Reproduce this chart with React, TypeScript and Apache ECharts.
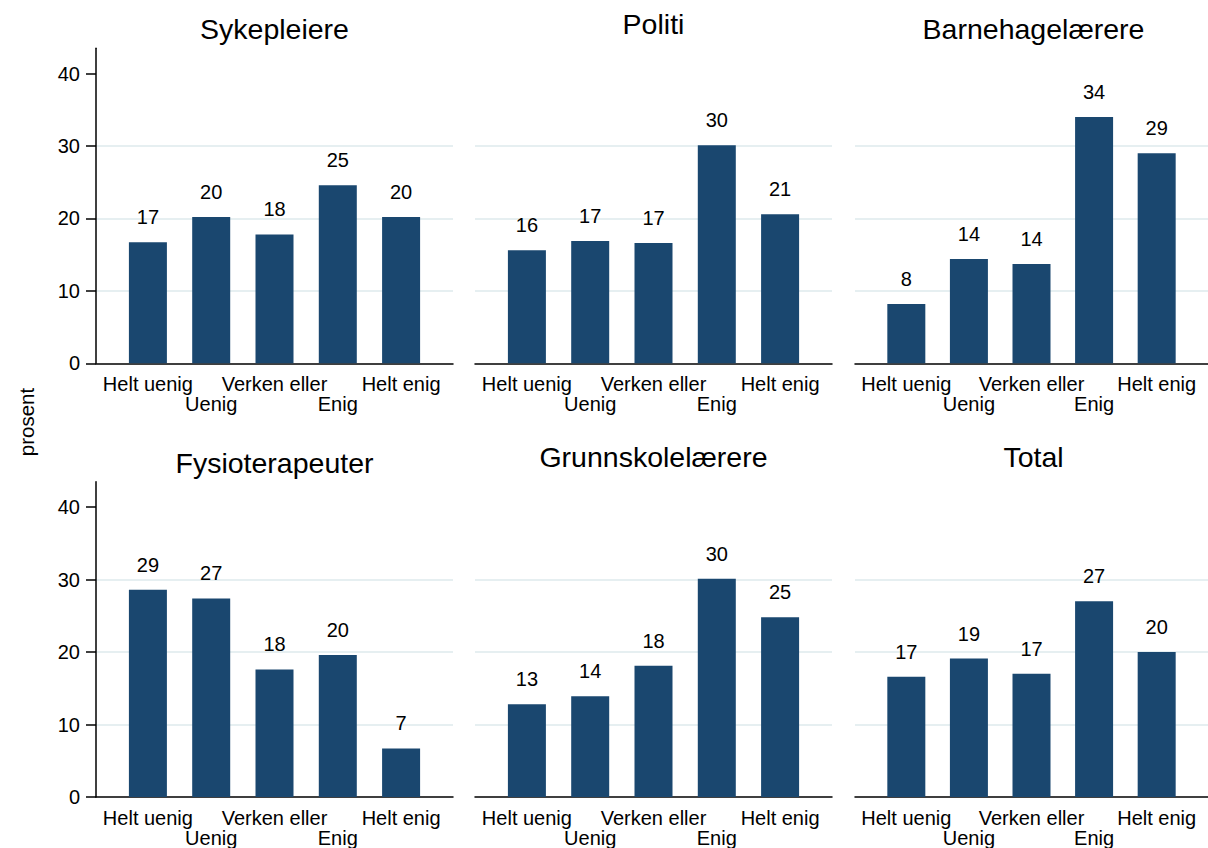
import React, { useEffect, useRef } from "react";
import * as echarts from "echarts";

const categories = ["Helt uenig", "Uenig", "Verken eller", "Enig", "Helt enig"];
const panelTitles = ["Sykepleiere", "Politi", "Barnehagelærere", "Fysioterapeuter", "Grunnskolelærere", "Total"];
const sykepleiere = [16.7, 20.2, 17.8, 24.6, 20.2];
const politi = [15.6, 16.9, 16.6, 30.1, 20.6];
const barnehagelaerere = [8.2, 14.4, 13.7, 34.0, 29.0];
const fysioterapeuter = [28.6, 27.4, 17.6, 19.6, 6.7];
const grunnskolelaerere = [12.8, 13.9, 18.1, 30.1, 24.8];
const total = [16.6, 19.1, 17.0, 27.0, 20.0];
const yTicks = [0, 10, 20, 30, 40];
const firstLineLabels = [0, 2, 4];
const secondLineLabels = [1, 3];
const yLabel = "prosent";

const panelValues = [sykepleiere, politi, barnehagelaerere, fysioterapeuter, grunnskolelaerere, total];

const FONT = "'Liberation Sans', Arial, Helvetica, sans-serif";
const BAR = "#1a476f";
const GRID = "#e6eff1";

const colLeft = [96, 475, 855];
const colWidth = 357;
const rowTop = [48.3, 481.7];
const rowHeight = [315, 315.6];
const titleTop = [14, 9, 14, 448, 442, 442];

export default function App() {
  const ref = useRef<HTMLDivElement>(null);
  useEffect(() => {
    if (!ref.current) return;
    const chart = echarts.init(ref.current, null, { renderer: "svg" });
    const grids: any[] = [];
    const xAxes: any[] = [];
    const yAxes: any[] = [];
    const series: any[] = [];
    const titles: any[] = [];
    const labelStyle = {
      formatter: (v: number) => categories[Math.round(v)],
      fontFamily: FONT,
      fontSize: 20,
      color: "#000",
      showMinLabel: true,
      showMaxLabel: true,
      hideOverlap: false,
    };
    panelValues.forEach((vals, i) => {
      const r = Math.floor(i / 3);
      const c = i % 3;
      grids.push({ left: colLeft[c], top: rowTop[r], width: colWidth, height: rowHeight[r], containLabel: false });
      xAxes.push({
        type: "value",
        gridIndex: i,
        position: "bottom",
        min: -0.82,
        max: 4.82,
        splitLine: { show: false },
        axisTick: { show: false },
        axisLine: { show: true, onZero: false, lineStyle: { color: "#000", width: 1.5 } },
        axisLabel: { ...labelStyle, customValues: firstLineLabels, margin: 11 },
      });
      xAxes.push({
        type: "value",
        gridIndex: i,
        position: "bottom",
        min: -0.82,
        max: 4.82,
        splitLine: { show: false },
        axisTick: { show: false },
        axisLine: { show: false, onZero: false },
        axisLabel: { ...labelStyle, customValues: secondLineLabels, margin: 31 },
      });
      const showAxis = c === 0;
      yAxes.push({
        type: "value",
        gridIndex: i,
        min: 0,
        max: 43.5,
        interval: 10,
        axisLine: { show: showAxis, onZero: false, lineStyle: { color: "#000", width: 1.5 } },
        axisTick: { show: showAxis, length: 10, customValues: yTicks, lineStyle: { color: "#000", width: 1.5 } },
        axisLabel: {
          show: showAxis,
          customValues: yTicks,
          showMinLabel: true,
          fontFamily: FONT,
          fontSize: 20,
          color: "#000",
          margin: 16,
        },
        splitLine: { show: true, showMinLine: false, showMaxLine: false, lineStyle: { color: GRID, width: 2 } },
      });
      series.push({
        type: "bar",
        xAxisIndex: 2 * i,
        yAxisIndex: i,
        barWidth: 38,
        itemStyle: { color: BAR },
        data: vals.map((v, k) => [k, v]),
        label: {
          show: true,
          position: "top",
          distance: 15,
          fontFamily: FONT,
          fontSize: 20,
          color: "#000",
          formatter: (p: any) => String(Math.round(p.value[1])),
        },
      });
      titles.push({
        text: panelTitles[i],
        left: colLeft[c] + colWidth / 2,
        top: titleTop[i],
        textAlign: "center",
        padding: 0,
        textStyle: { fontFamily: FONT, fontSize: 28.5, fontWeight: "normal", color: "#000" },
      });
    });
    chart.setOption({
      animation: false,
      backgroundColor: "#fff",
      title: titles,
      grid: grids,
      xAxis: xAxes,
      yAxis: yAxes,
      series,
      graphic: [
        {
          type: "text",
          x: 26,
          y: 422,
          rotation: Math.PI / 2,
          style: {
            text: yLabel,
            fontFamily: FONT,
            fontSize: 20.5,
            fill: "#000",
            align: "center",
            verticalAlign: "middle",
          },
        },
      ],
    });
    return () => chart.dispose();
  }, []);
  return (
    <div
      ref={ref}
      style={{ position: "fixed", left: 0, top: 0, width: 1208, height: 848, background: "#fff" }}
    />
  );
}
